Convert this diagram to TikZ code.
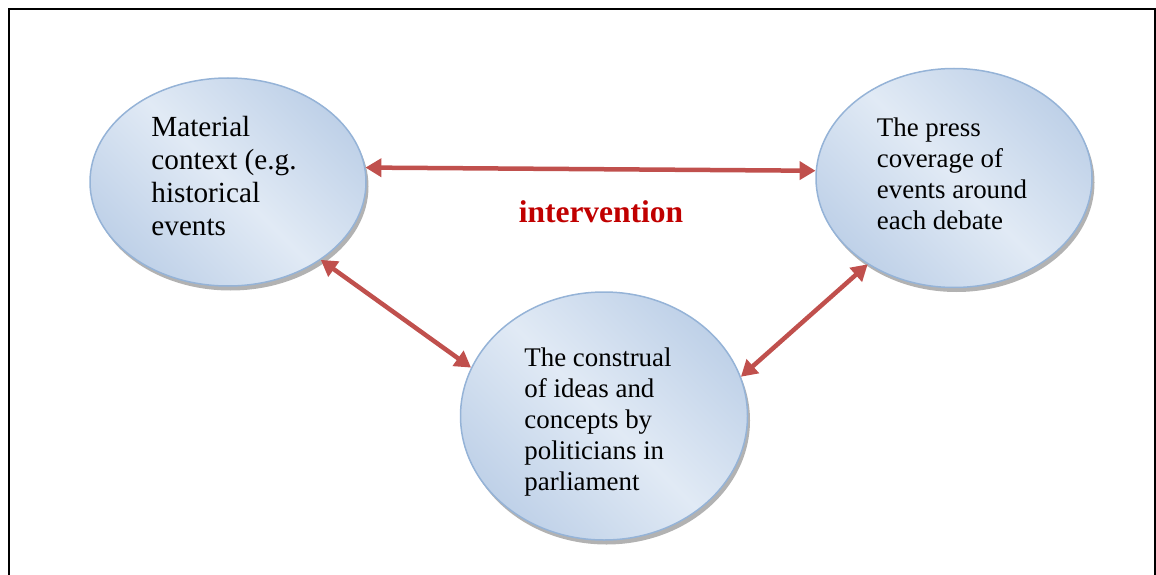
\documentclass[tikz,border=0pt]{standalone}
\usepackage{fontspec}
\setmainfont{Liberation Serif}
\usepackage{xcolor}
\usepackage{tikz}
\usetikzlibrary{shapes.geometric}
\usetikzlibrary{shadows}
\usetikzlibrary{arrows.meta}
\definecolor{bubbleedge}{HTML}{95B3D7}
\definecolor{bubbledark}{HTML}{BFD1E8}
\definecolor{bubbleface}{HTML}{E1EAF5}
\definecolor{linkred}{HTML}{C0504D}
\definecolor{labelred}{HTML}{C00000}
\tikzset{
  bubble/.style={
    ellipse, draw=bubbleedge, line width=1.5pt, inner sep=0pt,
    top color=bubbledark, bottom color=bubbledark, middle color=bubbleface,
    shading angle=-45,
    drop shadow={shadow xshift=2.5pt, shadow yshift=-4.5pt, fill=black!55, opacity=0.55},
  },
  blurb/.style={align=left, inner sep=0pt, text=black, font=\rmfamily\fontsize{26.9}{31}\selectfont},
  link/.style={
    draw=linkred, line width=4.5pt,
    {Triangle[length=16pt,width=18pt]}-{Triangle[length=16pt,width=18pt]},
  },
}

\begin{document}
\begin{tikzpicture}[x=1pt, y=-1pt]

  \useasboundingbox (0,0) rectangle (1156,575);
  \clip (0,0) rectangle (1156,575);

  % Frame
  \draw[line width=2pt] (9,590) -- (9,9) -- (1155,9) -- (1155,590);

  % Define nodes
  \node[bubble, minimum width=276pt, minimum height=208pt,
        label={[blurb, xshift=-4pt, yshift=6pt, font=\rmfamily\fontsize{29.2}{33.3}\selectfont]center:{Material\\context (e.g.\\historical\\events}}]
        (material) at (228,182) {};
  \node[bubble, minimum width=276pt, minimum height=219pt,
        label={[blurb, xshift=-2pt, yshift=4pt]center:{The press\\coverage of\\events around\\each debate}}]
        (press) at (954,178) {};
  \node[bubble, minimum width=287pt, minimum height=248pt,
        label={[blurb, xshift=-6pt, yshift=-6pt]center:{The construal\\of ideas and\\concepts by\\politicians in\\parliament}}]
        (construal) at (604,416) {};

  \node[text=labelred, font=\fontsize{31.5}{36}\selectfont\bfseries] (intervention) at (601,212) {intervention};

  % Connect nodes
  \draw[link] (material.6) -- (press.177);
  \draw[link] (material.-40) -- (construal.160);
  \draw[link] (press.225) -- (construal.16);

\end{tikzpicture}
\end{document}
